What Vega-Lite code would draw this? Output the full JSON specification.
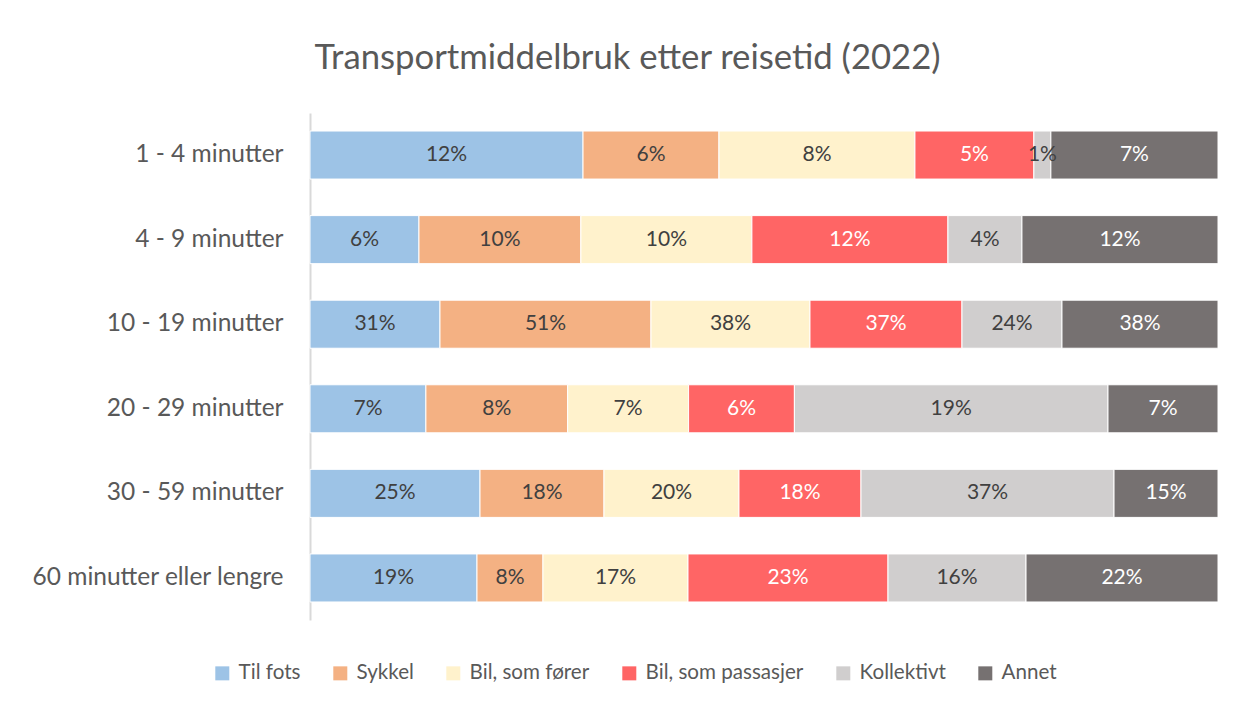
{
  "$schema": "https://vega.github.io/schema/vega-lite/v6.json",
  "width": 908,
  "height": 507,
  "autosize": {"type": "none"},
  "padding": {"left": 310, "top": 113, "right": 18, "bottom": 82},
  "config": {"view": {"stroke": null}, "font": "Lato"},
  "title": {
    "text": "Transportmiddelbruk etter reisetid (2022)",
    "fontSize": 34.7,
    "font": "Lato",
    "fontWeight": "normal",
    "color": "#595959",
    "anchor": "middle",
    "dx": -136.5,
    "offset": 36
  },
  "data": {
    "values": [
      {"tid": "1 - 4 minutter", "modus": "Til fots", "k": 1, "v": 0.1173},
      {"tid": "1 - 4 minutter", "modus": "Sykkel", "k": 2, "v": 0.0584},
      {"tid": "1 - 4 minutter", "modus": "Bil, som fører", "k": 3, "v": 0.0842},
      {"tid": "1 - 4 minutter", "modus": "Bil, som passasjer", "k": 4, "v": 0.0511},
      {"tid": "1 - 4 minutter", "modus": "Kollektivt", "k": 5, "v": 0.0073},
      {"tid": "1 - 4 minutter", "modus": "Annet", "k": 6, "v": 0.0718},
      {"tid": "4 - 9 minutter", "modus": "Til fots", "k": 1, "v": 0.0648},
      {"tid": "4 - 9 minutter", "modus": "Sykkel", "k": 2, "v": 0.0963},
      {"tid": "4 - 9 minutter", "modus": "Bil, som fører", "k": 3, "v": 0.1017},
      {"tid": "4 - 9 minutter", "modus": "Bil, som passasjer", "k": 4, "v": 0.1166},
      {"tid": "4 - 9 minutter", "modus": "Kollektivt", "k": 5, "v": 0.0440},
      {"tid": "4 - 9 minutter", "modus": "Annet", "k": 6, "v": 0.1166},
      {"tid": "10 - 19 minutter", "modus": "Til fots", "k": 1, "v": 0.3135},
      {"tid": "10 - 19 minutter", "modus": "Sykkel", "k": 2, "v": 0.5089},
      {"tid": "10 - 19 minutter", "modus": "Bil, som fører", "k": 3, "v": 0.3835},
      {"tid": "10 - 19 minutter", "modus": "Bil, som passasjer", "k": 4, "v": 0.3666},
      {"tid": "10 - 19 minutter", "modus": "Kollektivt", "k": 5, "v": 0.2412},
      {"tid": "10 - 19 minutter", "modus": "Annet", "k": 6, "v": 0.3763},
      {"tid": "20 - 29 minutter", "modus": "Til fots", "k": 1, "v": 0.0690},
      {"tid": "20 - 29 minutter", "modus": "Sykkel", "k": 2, "v": 0.0844},
      {"tid": "20 - 29 minutter", "modus": "Bil, som fører", "k": 3, "v": 0.0720},
      {"tid": "20 - 29 minutter", "modus": "Bil, som passasjer", "k": 4, "v": 0.0630},
      {"tid": "20 - 29 minutter", "modus": "Kollektivt", "k": 5, "v": 0.1867},
      {"tid": "20 - 29 minutter", "modus": "Annet", "k": 6, "v": 0.0655},
      {"tid": "30 - 59 minutter", "modus": "Til fots", "k": 1, "v": 0.2490},
      {"tid": "30 - 59 minutter", "modus": "Sykkel", "k": 2, "v": 0.1816},
      {"tid": "30 - 59 minutter", "modus": "Bil, som fører", "k": 3, "v": 0.1977},
      {"tid": "30 - 59 minutter", "modus": "Bil, som passasjer", "k": 4, "v": 0.1787},
      {"tid": "30 - 59 minutter", "modus": "Kollektivt", "k": 5, "v": 0.3706},
      {"tid": "30 - 59 minutter", "modus": "Annet", "k": 6, "v": 0.1523},
      {"tid": "60 minutter eller lengre", "modus": "Til fots", "k": 1, "v": 0.1931},
      {"tid": "60 minutter eller lengre", "modus": "Sykkel", "k": 2, "v": 0.0763},
      {"tid": "60 minutter eller lengre", "modus": "Bil, som fører", "k": 3, "v": 0.1677},
      {"tid": "60 minutter eller lengre", "modus": "Bil, som passasjer", "k": 4, "v": 0.2313},
      {"tid": "60 minutter eller lengre", "modus": "Kollektivt", "k": 5, "v": 0.1596},
      {"tid": "60 minutter eller lengre", "modus": "Annet", "k": 6, "v": 0.2220}
    ]
  },
  "transform": [
    {"stack": "v", "groupby": ["tid"], "sort": [{"field": "k", "order": "ascending"}], "offset": "normalize", "as": ["x0", "x1"]},
    {"calculate": "(datum.x0 + datum.x1) / 2", "as": "xm"}
  ],
  "encoding": {
    "y": {
      "field": "tid",
      "type": "nominal",
      "sort": ["1 - 4 minutter", "4 - 9 minutter", "10 - 19 minutter", "20 - 29 minutter", "30 - 59 minutter", "60 minutter eller lengre"],
      "scale": {"paddingInner": 0.432, "paddingOuter": 0.213},
      "axis": {
        "title": null,
        "ticks": false,
        "domainColor": "#d9d9d9",
        "domainWidth": 2,
        "labelFontSize": 24.5,
        "labelColor": "#595959",
        "labelPadding": 27,
        "labelFont": "Lato",
        "labelLimit": 400
      }
    }
  },
  "layer": [
    {
      "mark": {"type": "bar", "stroke": "white", "strokeWidth": 1},
      "encoding": {
        "x": {"field": "x0", "type": "quantitative", "scale": {"domain": [0, 1]}, "axis": null},
        "x2": {"field": "x1"},
        "color": {
          "field": "modus",
          "type": "nominal",
          "sort": ["Til fots", "Sykkel", "Bil, som fører", "Bil, som passasjer", "Kollektivt", "Annet"],
          "scale": {
            "domain": ["Til fots", "Sykkel", "Bil, som fører", "Bil, som passasjer", "Kollektivt", "Annet"],
            "range": ["#9dc3e6", "#f4b183", "#fff2cc", "#ff6565", "#d0cece", "#767171"]
          },
          "legend": {
            "title": null,
            "orient": "none",
            "direction": "horizontal",
            "legendX": -98,
            "legendY": 550,
            "symbolType": "square",
            "symbolSize": 196,
            "symbolStrokeWidth": 0,
            "labelFontSize": 20.6,
            "labelColor": "#595959",
            "labelFont": "Lato",
            "labelOffset": 6,
            "columnPadding": 29,
            "labelLimit": 400
          }
        }
      }
    },
    {
      "mark": {"type": "text", "fontSize": 21, "font": "Lato", "align": "center", "baseline": "middle"},
      "encoding": {
        "x": {"field": "xm", "type": "quantitative", "scale": {"domain": [0, 1]}},
        "text": {"field": "v", "type": "quantitative", "format": ".0%"},
        "color": {
          "condition": {"test": "datum.modus === 'Bil, som passasjer' || datum.modus === 'Annet'", "value": "#ffffff"},
          "value": "#404040"
        }
      }
    }
  ]
}
